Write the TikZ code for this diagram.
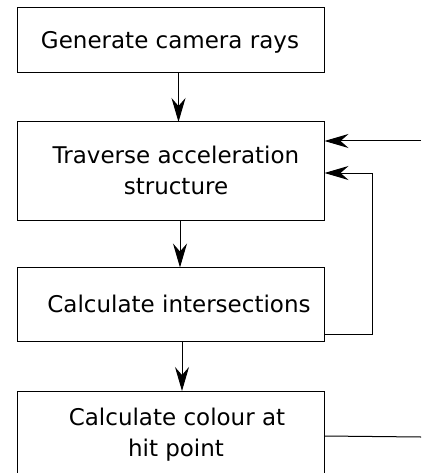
\documentclass[tikz,border=0pt]{standalone}
\usepackage{fontspec}
\setmainfont{DejaVu Sans}
\usetikzlibrary{arrows.meta}
\begin{document}
\begin{tikzpicture}[x=1pt,y=1pt,
 box/.style={draw, line width=1pt, minimum width=307pt, inner sep=0pt, outer sep=0pt},
 lbl/.style={anchor=base, inner sep=0pt, font=\fontsize{23}{28}\selectfont},
 arr/.style={line width=1pt, -{Stealth[length=24pt,width=14pt,inset=8pt]}},
 ln/.style={line width=1pt}]
\useasboundingbox (0,0) rectangle (421,-473);
\clip (0,0) rectangle (421,-473);
\node[box, minimum height=65pt] (b1) at (171,-40) {};
\node[box, minimum height=98pt] (b2) at (171,-171) {};
\node[box, minimum height=74pt] (b3) at (171,-304.5) {};
\node[box, minimum height=110pt] (b4) at (171,-446) {};
\node[lbl] (t1) at (170,-48.3) {Generate camera rays};
\node[lbl] (t2a) at (176,-163.3) {Traverse acceleration};
\node[lbl] (t2b) at (176,-194.3) {structure};
\node[lbl] (t3) at (179,-312) {Calculate intersections};
\node[lbl] (t4a) at (177,-425) {Calculate colour at};
\node[lbl] (t4b) at (176,-456) {hit point};
\draw[arr] ([xshift=7.5pt]b1.south) -- ([xshift=7.5pt]b2.north);
\draw[arr] ([xshift=9pt]b2.south) -- ([xshift=9pt]b3.north);
\draw[arr] ([xshift=11pt]b3.south) -- ([xshift=11pt]b4.north);
\coordinate (inT) at (421,-141);
\draw[arr] (inT) -- ([yshift=30pt]b2.east);
\draw[arr] ([yshift=-29.5pt]b3.east) -- ++(47.5,0) |- ([yshift=-2pt]b2.east);
\coordinate (outB) at (421,-437);
\draw[ln] ([yshift=10pt]b4.east) -- (outB);
\end{tikzpicture}
\end{document}
